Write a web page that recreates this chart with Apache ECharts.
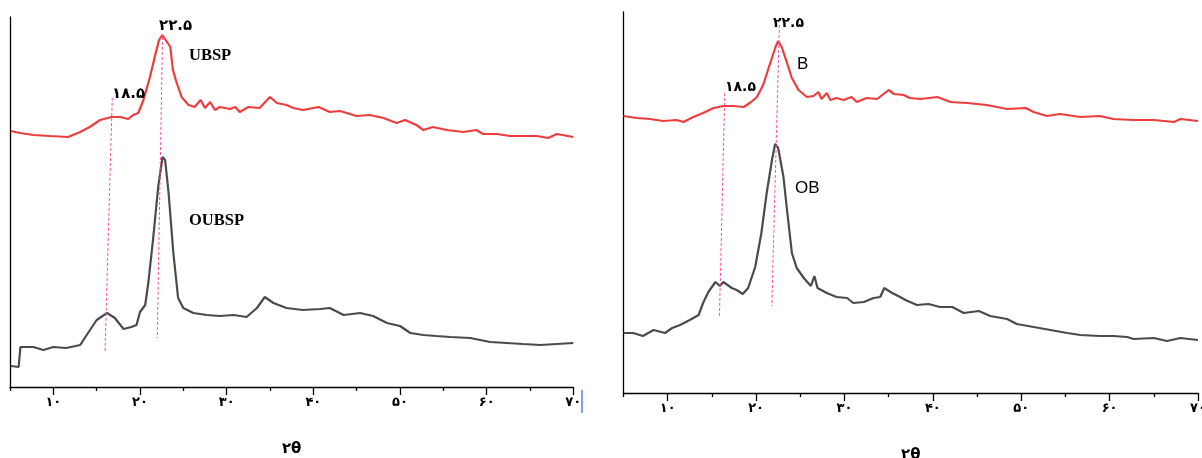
<!DOCTYPE html>
<html>
<head>
<meta charset="utf-8">
<script src="https://cdn.jsdelivr.net/npm/echarts@6/dist/echarts.min.js"></script>
<style>
  html, body { margin: 0; padding: 0; background: #ffffff; }
  #chart { width: 1202px; height: 458px; }
</style>
</head>
<body>
<div id="chart"></div>
<script>
// X-ray diffraction patterns, intensity in arbitrary units vs 2θ (degrees)

// Left panel: UBSP (upper trace) and OUBSP (lower trace)
const ubspTheta = [5.1, 6.15, 7.7, 9.6, 11.7, 13.1, 14.2, 15.4, 16.7, 17.7, 18.65, 19.2, 19.8, 20.4, 21.15, 21.7, 22.2, 22.57, 22.96, 23.5, 23.8, 24.2, 24.8, 25.6, 26.3, 27.0, 27.5, 28.1, 28.65, 29.2, 30.4, 31.0, 31.5, 32.5, 33.8, 35.0, 35.8, 36.9, 37.7, 38.8, 40.6, 41.9, 43.1, 45.0, 46.5, 48.1, 49.6, 50.6, 51.9, 52.7, 53.8, 55.4, 57.3, 58.8, 59.6, 61.2, 62.7, 64.2, 65.8, 67.1, 68.1, 70.0];
const ubspInt = [256, 254, 252, 251, 250, 255, 260, 267, 270, 270, 268, 272, 274, 287, 310, 330, 347, 352, 347, 340, 317, 305, 290, 282, 280, 287, 279, 285, 277, 280, 278, 280, 275, 280, 279, 290, 284, 282, 279, 277, 280, 275, 276, 271, 272, 269, 264, 267, 262, 257, 260, 257, 255, 257, 253, 253, 251, 251, 251, 249, 253, 250];

const oubspTheta = [5.1, 6.0, 6.2, 6.35, 7.7, 8.85, 10.0, 11.5, 13.1, 13.85, 15.0, 16.2, 17.1, 18.1, 19.0, 19.6, 20.0, 20.6, 20.96, 21.5, 22.1, 22.6, 22.9, 23.3, 23.85, 24.4, 25.0, 26.15, 27.7, 29.2, 30.8, 32.3, 33.5, 34.4, 35.4, 36.9, 38.8, 40.8, 41.9, 43.5, 45.4, 46.9, 48.5, 50.0, 51.2, 52.7, 54.2, 55.8, 58.1, 60.4, 62.3, 64.2, 66.2, 68.1, 70.0];
const oubspInt = [21, 20, 40, 42, 40, 37, 40, 39, 42, 52, 67, 74, 69, 58, 60, 62, 75, 82, 104, 147, 200, 230, 227, 194, 134, 89, 79, 74, 72, 71, 72, 70, 79, 90, 84, 79, 77, 78, 79, 72, 74, 71, 64, 61, 54, 52, 51, 50, 49, 45, 44, 43, 42, 43, 44];

// Right panel: B (upper trace) and OB (lower trace)
const bTheta = [5.0, 6.5, 8.0, 9.5, 11.0, 11.8, 12.9, 14.0, 15.2, 16.3, 17.4, 18.6, 19.3, 20.1, 20.8, 21.6, 22.2, 22.5, 22.9, 23.5, 24.05, 24.8, 25.75, 26.5, 27.05, 27.4, 28.0, 28.4, 29.1, 29.9, 30.8, 31.4, 32.5, 33.7, 35.0, 35.6, 36.7, 37.4, 38.6, 40.5, 42.0, 43.9, 46.1, 48.4, 50.5, 51.4, 52.9, 54.4, 56.7, 58.9, 60.4, 62.7, 65.0, 67.3, 68.0, 70.0];
const bInt = [277, 275, 274, 272, 273, 271, 276, 280, 285, 287, 287, 286, 290, 296, 308, 330, 346, 352, 346, 330, 315, 303, 296, 297, 301, 294, 300, 293, 295, 293, 296, 291, 295, 294, 303, 299, 298, 295, 294, 296, 291, 290, 288, 284, 285, 281, 277, 279, 276, 277, 274, 273, 273, 271, 274, 272];

const obTheta = [5.0, 6.1, 7.2, 8.4, 9.7, 10.5, 11.4, 12.5, 13.5, 14.0, 14.6, 15.4, 15.9, 16.3, 17.25, 17.8, 18.5, 19.1, 19.9, 20.6, 21.2, 21.8, 22.15, 22.5, 23.1, 23.5, 24.05, 24.6, 25.4, 26.2, 26.6, 26.95, 28.0, 29.1, 30.3, 31.0, 32.2, 33.3, 34.05, 34.5, 35.4, 36.3, 36.9, 38.2, 39.5, 40.8, 42.2, 43.5, 45.2, 46.5, 48.4, 49.5, 51.4, 53.3, 55.2, 56.7, 58.9, 60.4, 62.0, 62.7, 65.0, 66.5, 68.0, 70.0];
const obInt = [60, 60, 57, 63, 60, 65, 68, 73, 78, 90, 101, 111, 107, 111, 105, 103, 99, 105, 126, 160, 200, 233, 249, 245, 216, 183, 140, 125, 115, 107, 117, 105, 100, 96, 95, 90, 91, 95, 96, 105, 100, 96, 93, 88, 89, 86, 86, 80, 82, 77, 74, 69, 66, 63, 60, 58, 57, 57, 56, 54, 55, 52, 55, 53];

// Peak guide lines (dashed), each given by its upper and lower end [2θ, intensity]
const leftGuide185 = [[16.8, 289], [15.96, 34]];
const leftGuide225 = [[22.6, 350], [21.99, 49]];
const rightGuide185 = [[16.46, 300], [15.85, 75]];
const rightGuide225 = [[22.64, 368], [21.78, 87]];

// Texts
const peakLabels = ['۱۸.۵', '۲۲.۵'];
const sampleNames = ['UBSP', 'OUBSP', 'B', 'OB'];
const axisTitle = '۲θ';
const majorTicks = [10, 20, 30, 40, 50, 60, 70];
const majorTickLabels = ['۱۰', '۲۰', '۳۰', '۴۰', '۵۰', '۶۰', '۷۰'];
const minorTicks = [5, 15, 25, 35, 45, 55, 65];

const pairs = (xs, ys) => xs.map((x, i) => [x, ys[i]]);

const RED = '#ee3d3d';
const GRAY = '#4b4b4b';
const GUIDE = '#ff4fa7';
const persianFont = 'DejaVu Sans';

function majorAxis(gridIndex) {
  return {
    type: 'value', gridIndex, min: 5, max: 70, position: 'bottom',
    name: axisTitle, nameLocation: 'middle', nameGap: 55,
    nameTextStyle: { fontFamily: persianFont, fontWeight: 'bold', fontSize: 15, color: '#000' },
    axisLine: { show: true, lineStyle: { color: '#000', width: 1.3 } },
    axisTick: { show: true, inside: false, length: 8, customValues: majorTicks, lineStyle: { color: '#000', width: 1.3 } },
    axisLabel: {
      show: true, customValues: majorTicks, margin: 9, hideOverlap: false,
      fontFamily: persianFont, fontWeight: 'bold', fontSize: 13, color: '#000',
      formatter: v => majorTickLabels[majorTicks.indexOf(Math.round(v))] || ''
    },
    splitLine: { show: false }
  };
}
function minorAxis(gridIndex) {
  return {
    type: 'value', gridIndex, min: 5, max: 70, position: 'bottom', offset: 0,
    axisLine: { show: false },
    axisTick: { show: true, inside: false, length: 4, customValues: minorTicks, lineStyle: { color: '#000', width: 1.3 } },
    axisLabel: { show: false },
    splitLine: { show: false }
  };
}
function plainY(gridIndex, max) {
  return {
    type: 'value', gridIndex, min: 0, max,
    axisLine: { show: true, onZero: false, lineStyle: { color: '#000', width: 1.3 } },
    axisTick: { show: false }, axisLabel: { show: false }, splitLine: { show: false }
  };
}
function trace(name, data, color, xi, yi) {
  return {
    name, type: 'line', data, xAxisIndex: xi, yAxisIndex: yi,
    showSymbol: false, symbol: 'none', smooth: false, z: 3,
    lineStyle: { color, width: 2.2 }
  };
}
function guide(data, xi, yi) {
  return {
    type: 'line', data, xAxisIndex: xi, yAxisIndex: yi,
    symbol: 'none', z: 4, silent: true,
    lineStyle: { color: GUIDE, width: 1, type: [3, 2] }
  };
}
function label(text, x, y, font, size, weight) {
  return {
    type: 'text', x, y, z: 10,
    style: { text, fill: '#000', fontFamily: font, fontSize: size, fontWeight: weight, verticalAlign: 'middle', align: 'left' }
  };
}

const chart = echarts.init(document.getElementById('chart'), null, { renderer: 'canvas' });
chart.setOption({
  animation: false,
  backgroundColor: '#ffffff',
  grid: [
    { left: 10, top: 17, width: 563.3, height: 370, outerBoundsMode: 'none', containLabel: false },
    { left: 623.5, top: 12, width: 574.5, height: 381, outerBoundsMode: 'none', containLabel: false }
  ],
  xAxis: [majorAxis(0), minorAxis(0), majorAxis(1), minorAxis(1)],
  yAxis: [plainY(0, 370), plainY(1, 381)],
  series: [
    trace('UBSP', pairs(ubspTheta, ubspInt), RED, 0, 0),
    trace('OUBSP', pairs(oubspTheta, oubspInt), GRAY, 0, 0),
    guide(leftGuide185, 0, 0),
    guide(leftGuide225, 0, 0),
    trace('B', pairs(bTheta, bInt), RED, 2, 1),
    trace('OB', pairs(obTheta, obInt), GRAY, 2, 1),
    guide(rightGuide185, 2, 1),
    guide(rightGuide225, 2, 1)
  ],
  graphic: [
    label(peakLabels[1], 159, 26, persianFont, 15, 'bold'),
    label(peakLabels[0], 112, 94.5, persianFont, 15, 'bold'),
    label(peakLabels[1], 773, 23, persianFont, 14, 'bold'),
    label(peakLabels[0], 725, 87.5, persianFont, 14, 'bold'),
    label(sampleNames[0], 189, 56, 'Liberation Serif', 16.5, 'bold'),
    label(sampleNames[1], 189, 221, 'Liberation Serif', 16.5, 'bold'),
    label(sampleNames[2], 797, 64, 'Liberation Sans', 17, 'normal'),
    label(sampleNames[3], 795, 188.5, 'Liberation Sans', 17, 'normal'),
    { type: 'line', z: 10, shape: { x1: 582, y1: 390, x2: 582, y2: 413 }, style: { stroke: '#3a6cf4', lineWidth: 1.3 } }
  ]
});
</script>
</body>
</html>
